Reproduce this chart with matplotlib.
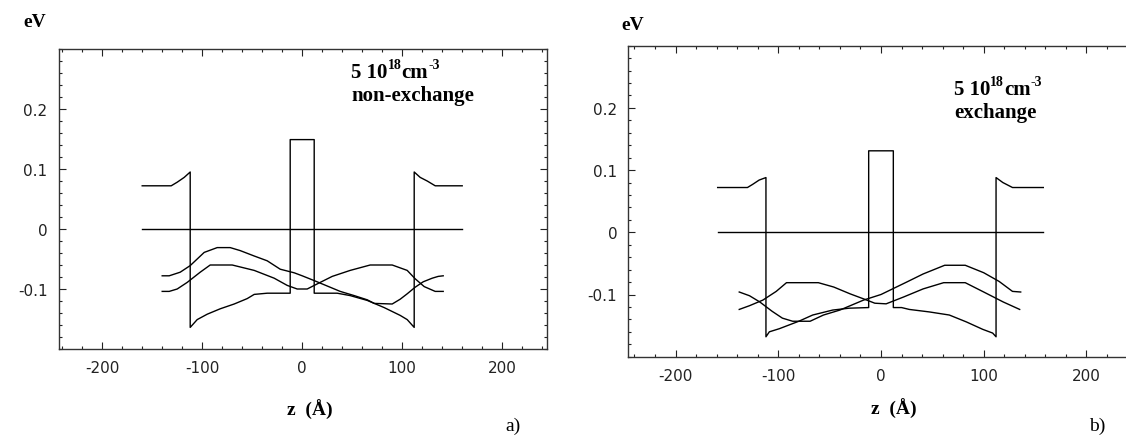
import matplotlib
matplotlib.use("Agg")
import matplotlib.pyplot as plt
from matplotlib.ticker import MultipleLocator, FixedLocator, FuncFormatter

plt.rcParams["axes.unicode_minus"] = False
plt.rcParams["font.family"] = "DejaVu Sans"

# panel a) non-exchange: band profile (z in Angstrom, E in eV)
cb_a_z = [-160, -131, -125, -118, -112, -112, -105, -95, -82, -68, -55, -48, -35, -12, -12,
          12, 12, 35, 48, 65, 82, 98, 105, 112, 112, 118, 125, 133, 160]
cb_a_E = [0.072, 0.072, 0.078, 0.086, 0.095, -0.164, -0.151, -0.142, -0.133, -0.125, -0.116,
          -0.109, -0.107, -0.107, 0.149, 0.149, -0.107, -0.107, -0.111, -0.119, -0.131,
          -0.144, -0.151, -0.164, 0.095, 0.086, 0.080, 0.072, 0.072]
# two subband curves
a1_z = [-140, -133, -122, -112, -98, -85, -72, -62, -48, -35, -22, -8, 0, 12, 25, 38, 52,
        65, 72, 90, 98, 105, 113, 121, 130, 136, 141]
a1_E = [-0.078, -0.078, -0.072, -0.061, -0.039, -0.031, -0.031, -0.036, -0.045, -0.053,
        -0.067, -0.073, -0.078, -0.086, -0.095, -0.104, -0.111, -0.118, -0.124, -0.125,
        -0.117, -0.108, -0.097, -0.088, -0.082, -0.079, -0.078]
a2_z = [-140, -133, -125, -115, -102, -92, -70, -48, -28, -15, -5, 5, 18, 30, 48, 68, 90,
        105, 113, 122, 133, 141]
a2_E = [-0.104, -0.104, -0.100, -0.089, -0.072, -0.060, -0.060, -0.069, -0.082, -0.094,
        -0.100, -0.100, -0.089, -0.079, -0.069, -0.060, -0.060, -0.069, -0.083, -0.096,
        -0.104, -0.104]

# panel b) exchange
cb_b_z = [-159, -130, -125, -118.6, -112, -112, -108.7, -99, -80, -66.5, -47, -31, -12, -12,
          12, 12, 20, 27.5, 47, 66.5, 83, 99, 108.7, 112, 112, 118.6, 128, 158]
cb_b_E = [0.072, 0.072, 0.077, 0.084, 0.088, -0.168, -0.160, -0.155, -0.143, -0.133, -0.125,
          -0.122, -0.121, 0.131, 0.131, -0.121, -0.121, -0.124, -0.128, -0.133, -0.144,
          -0.156, -0.162, -0.168, 0.088, 0.080, 0.072, 0.072]
b1_z = [-138, -128, -118, -106, -96, -86, -69, -56, -40, -17, 0, 10, 25, 41, 62, 82, 100,
        115, 128, 136]
b1_E = [-0.096, -0.102, -0.112, -0.127, -0.138, -0.143, -0.143, -0.133, -0.125, -0.109,
        -0.100, -0.092, -0.080, -0.067, -0.053, -0.053, -0.065, -0.079, -0.095, -0.096]
b2_z = [-138, -128, -115, -102, -92, -61, -46, -30, -17, -6, 5, 22, 41, 61, 82, 100, 119, 135]
b2_E = [-0.124, -0.118, -0.109, -0.095, -0.081, -0.081, -0.088, -0.099, -0.107, -0.114,
        -0.115, -0.104, -0.091, -0.081, -0.081, -0.096, -0.112, -0.124]

zero_a = [-160, 160]
zero_b = [-159, 158]

W, H = 1126, 439
fig = plt.figure(figsize=(W / 100, H / 100), dpi=100)


def make_axes(left, top, right, bottom, xlim):
    ax = fig.add_axes([left / W, 1 - bottom / H, (right - left) / W, (bottom - top) / H])
    ax.set_xlim(*xlim)
    ax.set_ylim(-0.2, 0.3)
    ax.xaxis.set_major_locator(MultipleLocator(100))
    ax.xaxis.set_minor_locator(MultipleLocator(20))
    ax.yaxis.set_major_locator(FixedLocator([-0.1, 0, 0.1, 0.2]))
    ax.yaxis.set_minor_locator(MultipleLocator(0.02))
    ax.yaxis.set_major_formatter(FuncFormatter(lambda v, p: f"{v:g}"))
    ax.xaxis.set_major_formatter(FuncFormatter(lambda v, p: f"{v:g}"))
    ax.tick_params(which="both", direction="in", top=True, right=True,
                   colors="#222222", width=0.8, labelsize=11, pad=8)
    ax.tick_params(which="major", length=5)
    ax.tick_params(which="minor", length=2.5)
    for s in ax.spines.values():
        s.set_linewidth(1.0)
        s.set_color("#333333")
    return ax


bold = dict(family="Liberation Serif", weight="bold", color="black")


def density_label(ax, x, y, second):
    t1 = ax.text(x, y, "5 10", fontsize=15, va="bottom", **bold)
    t2 = ax.annotate("18", xy=(1, 0.55), xycoords=t1, va="bottom", fontsize=10, **bold)
    t3 = ax.annotate("cm", xy=(1, 0), xycoords=(t2, t1), va="bottom", fontsize=15, **bold)
    ax.annotate("-3", xy=(1, 0.55), xycoords=(t3, t1), va="bottom", fontsize=10, **bold)
    ax.annotate(second, xy=(0, 0), xycoords=t1, xytext=(0, -16.5),
                textcoords="offset points", va="bottom", fontsize=15, **bold)


lw = 1.0
ax1 = make_axes(58.7, 50, 546.7, 350, (-243.5, 244.5))
ax1.plot(cb_a_z, cb_a_E, color="black", lw=lw)
ax1.plot(zero_a, [0, 0], color="black", lw=lw)
ax1.plot(a1_z, a1_E, color="black", lw=lw)
ax1.plot(a2_z, a2_E, color="black", lw=lw)
density_label(ax1, 49, 0.245, "non-exchange")

ax2 = make_axes(628.3, 46.7, 1133.7, 357.7, (-246, 246))
ax2.plot(cb_b_z, cb_b_E, color="black", lw=lw)
ax2.plot(zero_b, [0, 0], color="black", lw=lw)
ax2.plot(b1_z, b1_E, color="black", lw=lw)
ax2.plot(b2_z, b2_E, color="black", lw=lw)
density_label(ax2, 71, 0.214, "exchange")

# axis captions
fig.text(23 / W, 1 - 27 / H, "eV", fontsize=14, va="baseline", **bold)
fig.text(621 / W, 1 - 30 / H, "eV", fontsize=14, va="baseline", **bold)
fig.text(310 / W, 1 - 416 / H, "z  (Å)", fontsize=14, ha="center", va="baseline", **bold)
fig.text(894 / W, 1 - 415 / H, "z  (Å)", fontsize=14, ha="center", va="baseline", **bold)
fig.text(505 / W, 1 - 431 / H, "a)", fontsize=14, va="baseline", family="Liberation Serif")
fig.text(1089 / W, 1 - 431 / H, "b)", fontsize=14, va="baseline", family="Liberation Serif")

fig.savefig("out.png", dpi=100)
